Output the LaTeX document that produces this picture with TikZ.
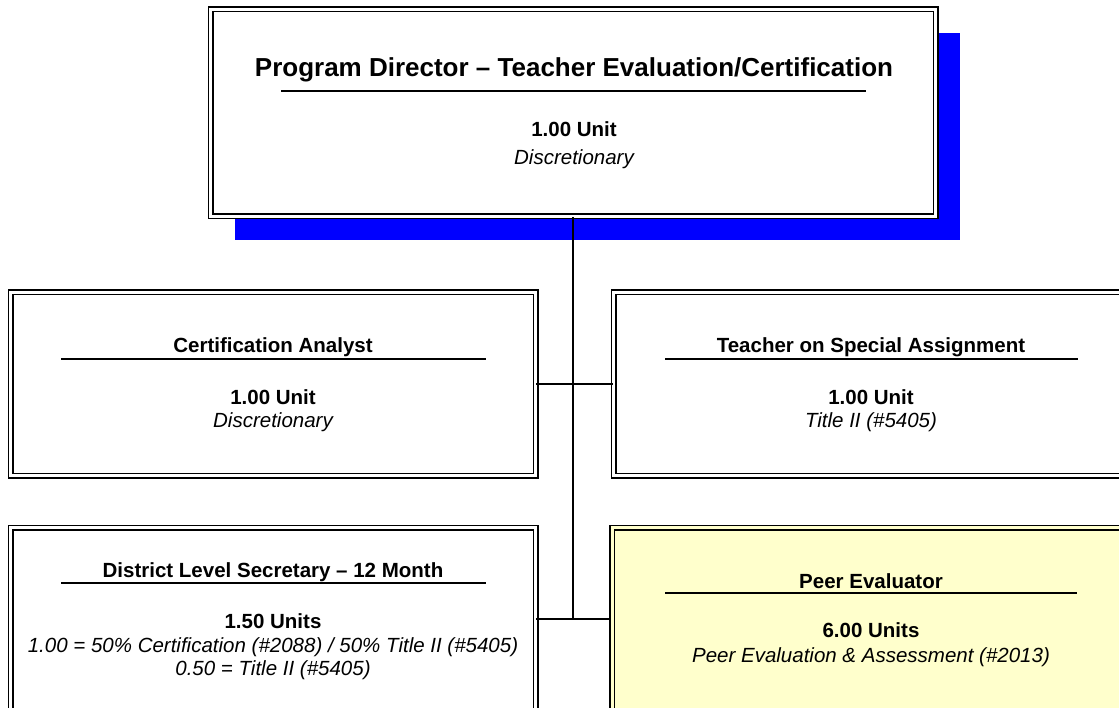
\documentclass[tikz,border=0pt]{standalone}
\usepackage{fontspec}
\setmainfont{Liberation Sans}
\usepackage{xcolor}
\usetikzlibrary{shadows}
\definecolor{peerfill}{HTML}{FFFFCC}

\begin{document}
\begin{tikzpicture}[
    x=1pt, y=-1pt,
    box/.style={rectangle, draw=black, fill=white, double=white, double distance=3pt, line width=1.5pt, minimum width=525pt, minimum height=183pt, inner sep=0pt},
    bigtitle/.style={anchor=base, font=\fontsize{26}{30}\selectfont\bfseries},
    boxtitle/.style={anchor=base, font=\fontsize{20.5}{24}\selectfont\bfseries},
    amount/.style={anchor=base, font=\fontsize{20.5}{24}\selectfont\bfseries},
    source/.style={anchor=base, font=\fontsize{20.5}{24}\selectfont\itshape},
    headline/.style={line width=1.5pt},
    link/.style={line width=1.5pt}
]
\clip (0,0) rectangle (1119,708);
\fill[white] (0,0) rectangle (1119,708);

% Boxes
\node[box, minimum width=725pt, minimum height=207pt, drop shadow={shadow xshift=24pt, shadow yshift=-24pt, fill=blue, opacity=1}] (director) at (573,113) {};
\node[box] (analyst) at (273,384) {};
\node[box] (teacher) at (876,384) {};
\node[box] (secretary) at (273,619) {};
\node[box, fill=peerfill, double=peerfill] (peer) at (874.5,619) {};

% Program Director
\node[bigtitle] (director title) at (574,77) {Program Director – Teacher Evaluation/Certification};
\draw[headline] (281,91) -- (866,91);
\node[amount] (director units) at (574,137) {1.00 Unit};
\node[source] (director source) at (574,165) {Discretionary};

% Certification Analyst
\node[boxtitle] (analyst title) at (273,353) {Certification Analyst};
\draw[headline] (61,359) -- (486,359);
\node[amount] (analyst units) at (273,404) {1.00 Unit};
\node[source] (analyst source) at (273,428) {Discretionary};

% Teacher on Special Assignment
\node[boxtitle] (teacher title) at (871,353) {Teacher on Special Assignment};
\draw[headline] (665,359) -- (1078,359);
\node[amount] (teacher units) at (871,404) {1.00 Unit};
\node[source] (teacher source) at (871,428) {Title II (\#5405)};

% District Level Secretary
\node[boxtitle] (secretary title) at (273,577) {District Level Secretary – 12 Month};
\draw[headline] (61,583) -- (486,583);
\node[amount] (secretary units) at (273,628) {1.50 Units};
\node[source] (secretary source a) at (273,652) {1.00 = 50\% Certification (\#2088) / 50\% Title II (\#5405)};
\node[source] (secretary source b) at (273,675) {0.50 = Title II (\#5405)};

% Peer Evaluator
\node[boxtitle] (peer title) at (871,588) {Peer Evaluator};
\draw[headline] (665,593) -- (1077,593);
\node[amount] (peer units) at (871,637) {6.00 Units};
\node[source] (peer source) at (871,662) {Peer Evaluation \& Assessment (\#2013)};

% Connectors
\draw[link] (director.south) -- (director.south |- secretary.east);
\draw[link] (analyst.east) -- (teacher.west);
\draw[link] (secretary.east) -- (peer.west);

\end{tikzpicture}
\end{document}
